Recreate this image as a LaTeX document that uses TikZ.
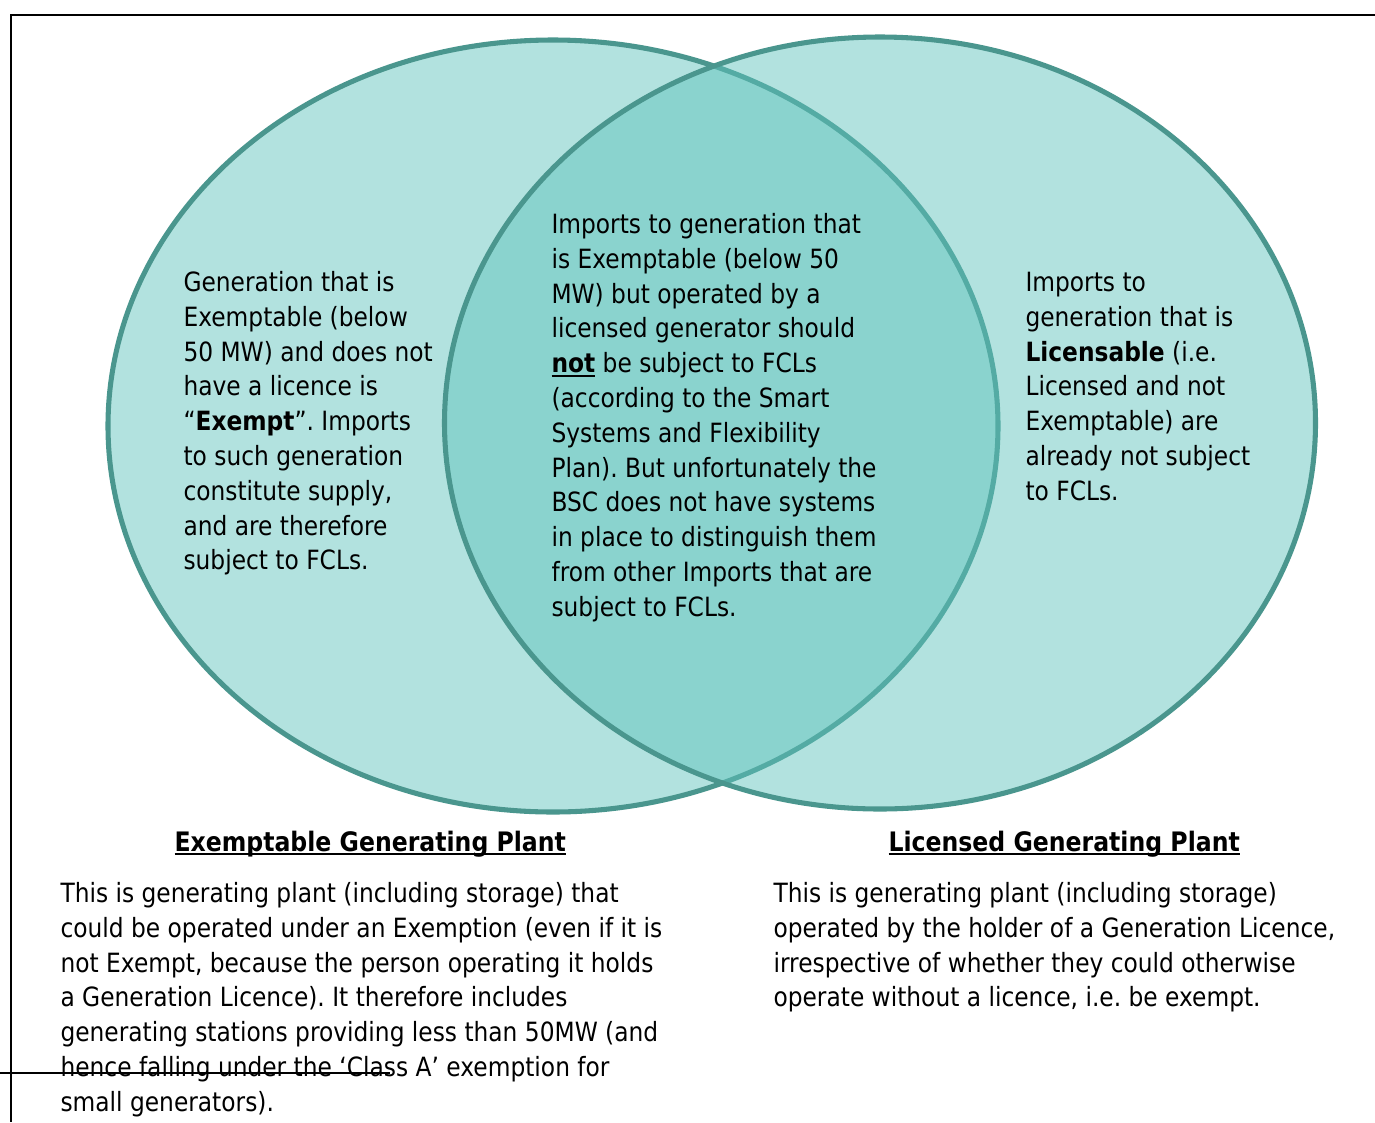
\documentclass[tikz,border=0pt]{standalone}
\usepackage{fontspec}
\setmainfont{DejaVu Sans}[FakeStretch=0.88]
\frenchspacing

% underlined text with a heavier rule
\newcommand{\headUline}[1]{\setbox0=\hbox{#1}\rlap{\rule[-1.5pt]{\wd0}{0.75pt}}\box0\relax}

\begin{document}
\begin{tikzpicture}[x=0.375pt, y=-0.375pt,
    bodyText/.style={anchor=north west, inner sep=0pt, align=left,
        font=\fontsize{9.94}{13.05}\selectfont},
    headText/.style={anchor=base west, inner sep=0pt,
        font=\fontsize{10.05}{13.05}\selectfont\bfseries}]
    \definecolor{vennFill}{RGB}{95,195,188}
    \definecolor{vennBorder}{HTML}{4A968E}

    \def\vennOpacity{0.48}

    \useasboundingbox (0,0) rectangle (1375,1122);

    % Draw frame
    \draw[line width=0.8pt] (1375,15) -- (11,15) -- (11,1122);

    % Draw the two sets
    \filldraw[fill=vennFill, fill opacity=\vennOpacity, draw=vennBorder, line width=1.9pt]
        (553,426) ellipse [x radius=445, y radius=386];
    \filldraw[fill=vennFill, fill opacity=\vennOpacity, draw=vennBorder, line width=1.9pt]
        (880,423) ellipse [x radius=435.5, y radius=386];

    % Texts inside the sets
    \node[bodyText] (exemptText) at (183,266.6) {\strut Generation that is\\
        Exemptable (below\\
        50 MW) and does not\\
        have a licence is\\
        “\textbf{Exempt}”. Imports\\
        to such generation\\
        constitute supply,\\
        and are therefore\\
        subject to FCLs.};
    \node[bodyText] (overlapText) at (551,208.6) {\strut Imports to generation that\\
        is Exemptable (below 50\\
        MW) but operated by a\\
        licensed generator should\\
        \headUline{\textbf{not}} be subject to FCLs\\
        (according to the Smart\\
        Systems and Flexibility\\
        Plan). But unfortunately the\\
        BSC does not have systems\\
        in place to distinguish them\\
        from other Imports that are\\
        subject to FCLs.};
    \node[bodyText] (licensedText) at (1025,266.6) {\strut Imports to\\
        generation that is\\
        \textbf{Licensable} (i.e.\\
        Licensed and not\\
        Exemptable) are\\
        already not subject\\
        to FCLs.};

    % Headings under the sets
    \node[headText] (exemptHead) at (174,851) {\headUline{Exemptable Generating Plant}};
    \node[headText] (licensedHead) at (888,851) {\headUline{Licensed Generating Plant}};

    % Descriptions
    \node[bodyText] (exemptNote) at (60,877.6) {\strut This is generating plant (including storage) that\\
        could be operated under an Exemption (even if it is\\
        not Exempt, because the person operating it holds\\
        a Generation Licence). It therefore includes\\
        generating stations providing less than 50MW (and\\
        hence falling under the ‘Class A’ exemption for\\
        small generators).};
    \node[bodyText] (licensedNote) at (773,877.6) {\strut This is generating plant (including storage)\\
        operated by the holder of a Generation Licence,\\
        irrespective of whether they could otherwise\\
        operate without a licence, i.e. be exempt.};

    % Stray rule across the page
    \draw[line width=0.75pt] (0,1073) -- (390,1073);

\end{tikzpicture}
\end{document}
